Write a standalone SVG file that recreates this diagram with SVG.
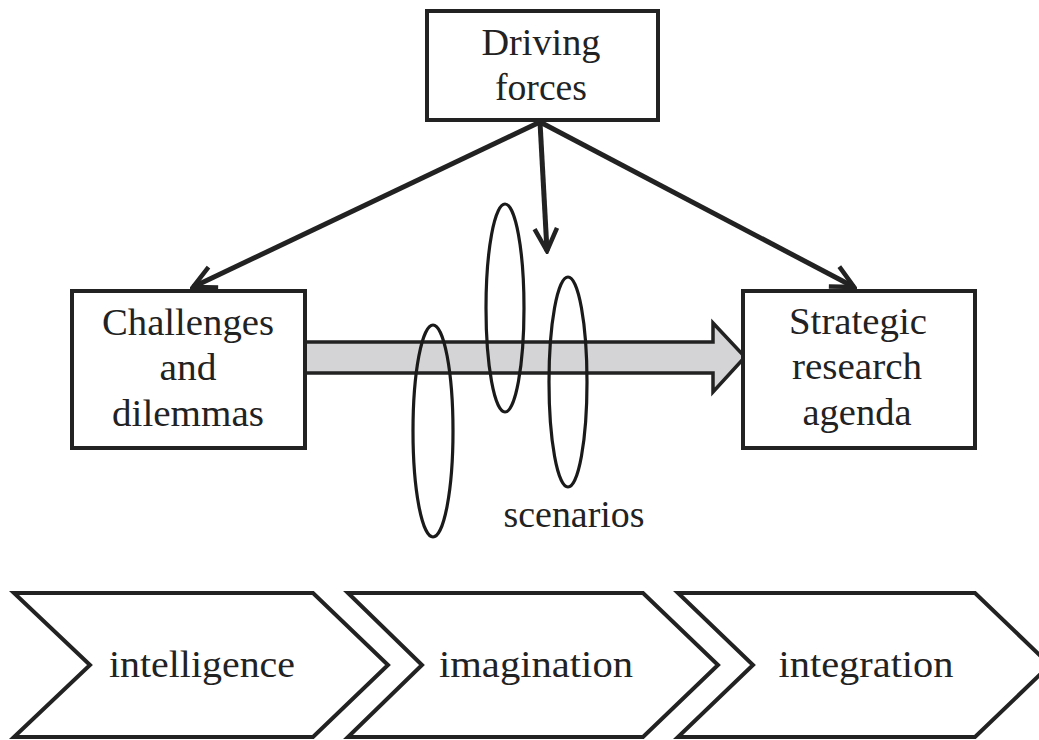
<svg xmlns="http://www.w3.org/2000/svg" width="1039" height="740" viewBox="0 0 1039 740">
<style>
.box{fill:#fff;stroke:#222;stroke-width:4}
.t{font-family:"Liberation Serif","Tinos","DejaVu Serif","Noto Serif","Times New Roman",serif;font-size:38px;fill:#222;text-anchor:middle}
.conn{stroke:#222;stroke-width:5;fill:none;marker-end:url(#ah)}
.ell{fill:none;stroke:#1a1a1a;stroke-width:3.2}
.chev{fill:#fff;stroke:#222;stroke-width:4;stroke-linejoin:miter}
</style>
<defs>
<marker id="ah" viewBox="0 0 20 20" refX="18" refY="10" markerWidth="6" markerHeight="6" markerUnits="strokeWidth" orient="auto">
<path d="M3,2.5 L18,10 L3,17.5" fill="none" stroke="#222" stroke-width="3" stroke-linejoin="miter"/>
</marker>
</defs>
<rect width="1039" height="740" fill="#fff"/>
<g id="connectors">
<line class="conn" x1="540" y1="122" x2="193" y2="287"/>
<line class="conn" x1="540" y1="122" x2="547" y2="251"/>
<line class="conn" x1="540" y1="122" x2="854" y2="287"/>
<polygon id="gray-arrow" points="305,342 713,342 713,323 745,357 713,392 713,373 305,373" fill="#d4d4d6" stroke="#222" stroke-width="3.5" stroke-linejoin="miter"/>
</g>
<g id="driving-forces">
<rect class="box" x="427" y="11" width="231" height="109"/>
<text class="t" x="541" y="55" textLength="119" lengthAdjust="spacingAndGlyphs">Driving</text>
<text class="t" x="541" y="100" textLength="92" lengthAdjust="spacingAndGlyphs">forces</text>
</g>
<g id="challenges">
<rect class="box" x="72" y="291" width="233" height="157"/>
<text class="t" x="188" y="335" textLength="172" lengthAdjust="spacingAndGlyphs">Challenges</text>
<text class="t" x="188" y="380" textLength="57" lengthAdjust="spacingAndGlyphs">and</text>
<text class="t" x="188" y="426" textLength="152" lengthAdjust="spacingAndGlyphs">dilemmas</text>
</g>
<g id="strategic">
<rect class="box" x="743" y="291" width="232" height="157"/>
<text class="t" x="858" y="334" textLength="138" lengthAdjust="spacingAndGlyphs">Strategic</text>
<text class="t" x="857" y="379" textLength="130" lengthAdjust="spacingAndGlyphs">research</text>
<text class="t" x="857" y="425" textLength="109" lengthAdjust="spacingAndGlyphs">agenda</text>
</g>
<g id="scenarios">
<ellipse class="ell" cx="433" cy="431" rx="20" ry="106"/>
<ellipse class="ell" cx="505" cy="308" rx="19" ry="104"/>
<ellipse class="ell" cx="568" cy="382" rx="19" ry="105"/>
<text class="t" x="574" y="527" textLength="141" lengthAdjust="spacingAndGlyphs">scenarios</text>
</g>
<g id="intelligence">
<polygon class="chev" points="14,593 313,593 388,665 313,737 14,737 90,665"/>
<text class="t" x="202" y="677" textLength="186" lengthAdjust="spacingAndGlyphs">intelligence</text>
</g>
<g id="imagination">
<polygon class="chev" points="348,593 643,593 718,665 643,737 348,737 422,665"/>
<text class="t" x="536" y="677" textLength="194" lengthAdjust="spacingAndGlyphs">imagination</text>
</g>
<g id="integration">
<polygon class="chev" points="678,593 975,593 1050,665 975,737 678,737 753,665"/>
<text class="t" x="866" y="677" textLength="175" lengthAdjust="spacingAndGlyphs">integration</text>
</g>
</svg>
